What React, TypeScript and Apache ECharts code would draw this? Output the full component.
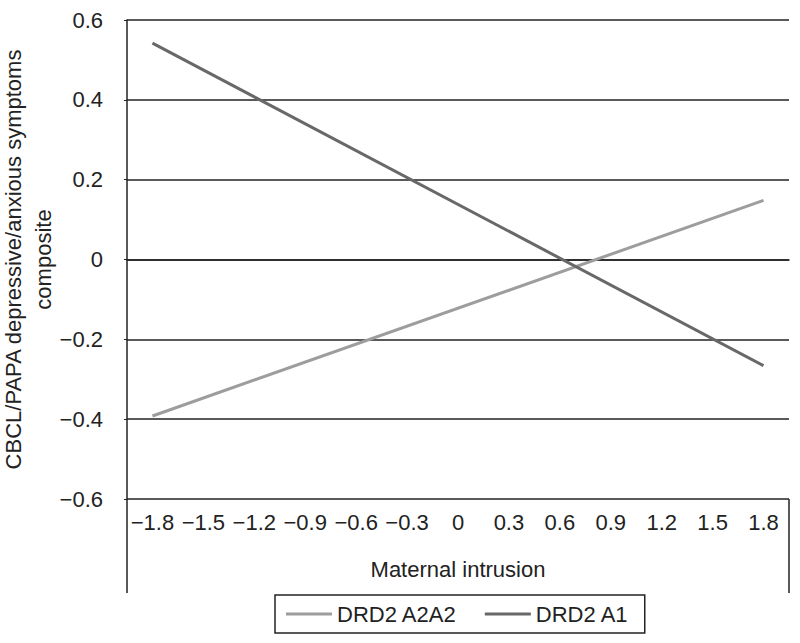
import React, { useEffect, useRef } from "react";
import * as echarts from "echarts";

const categories = ["-1.8", "-1.5", "-1.2", "-0.9", "-0.6", "-0.3", "0", "0.3", "0.6", "0.9", "1.2", "1.5", "1.8"];
const a2a2Values: (number | null)[] = [-0.392, null, null, null, null, null, null, null, null, null, null, null, 0.148];
const a1Values: (number | null)[] = [0.542, null, null, null, null, null, null, null, null, null, null, null, -0.266];
const yTicks = { min: -0.6, max: 0.6, interval: 0.2 };

const FONT = "Liberation Sans, Arial, Helvetica, sans-serif";
const TXT = "#222";
const FS = 22;

const minus = (s: string) => s.replace("-", "\u2212");

export default function App() {
  const ref = useRef<HTMLDivElement>(null);
  useEffect(() => {
    if (!ref.current) return;
    const chart = echarts.init(ref.current, undefined, { renderer: "svg" });
    chart.setOption({
      animation: false,
      backgroundColor: "#fff",
      textStyle: { fontFamily: FONT, color: TXT },
      grid: { left: 127, right: 11, top: 20, bottom: 144, containLabel: false, outerBoundsMode: "none" },
      xAxis: {
        type: "category",
        data: categories,
        boundaryGap: true,
        name: "Maternal intrusion",
        nameLocation: "middle",
        nameGap: 59,
        nameMoveOverlap: false,
        nameTextStyle: { fontSize: FS, color: TXT, fontFamily: FONT },
        axisLine: { lineStyle: { color: TXT, width: 1.5 } },
        axisTick: { show: false },
        axisLabel: {
          margin: 12,
          fontSize: FS,
          color: TXT,
          fontFamily: FONT,
          interval: 0,
          formatter: (v: string) => minus(v),
        },
      },
      yAxis: {
        type: "value",
        min: yTicks.min,
        max: yTicks.max,
        interval: yTicks.interval,
        name: "CBCL/PAPA depressive/anxious symptoms\ncomposite",
        nameLocation: "middle",
        nameRotate: 90,
        nameGap: 69,
        nameMoveOverlap: false,
        nameTextStyle: { fontSize: FS, color: TXT, fontFamily: FONT, lineHeight: 30, align: "center" },
        axisLine: { show: true, lineStyle: { color: TXT, width: 1.5 } },
        axisTick: { show: true, length: 3, lineStyle: { color: TXT } },
        splitLine: { show: true, lineStyle: { color: TXT, width: 1.5 } },
        axisLabel: {
          margin: 24,
          fontSize: FS,
          color: TXT,
          fontFamily: FONT,
          formatter: (v: number) => (Math.abs(v) < 1e-9 ? "0" : minus(v.toFixed(1))),
        },
      },
      legend: {
        left: 275,
        top: 595,
        orient: "horizontal",
        padding: [8, 16, 8, 11],
        itemGap: 28,
        itemWidth: 46,
        itemHeight: 3,
        icon: "rect",
        borderColor: TXT,
        borderWidth: 1.5,
        borderRadius: 0,
        textStyle: { fontSize: FS, color: TXT, fontFamily: FONT },
        data: ["DRD2 A2A2", "DRD2 A1"],
      },
      graphic: [
        { type: "line", shape: { x1: 127, y1: 499, x2: 127, y2: 593 }, style: { stroke: TXT, lineWidth: 1.5 } },
        { type: "line", shape: { x1: 789, y1: 499, x2: 789, y2: 593 }, style: { stroke: TXT, lineWidth: 1.5 } },
      ],
      series: [
        {
          name: "DRD2 A2A2",
          type: "line",
          data: a2a2Values,
          connectNulls: true,
          showSymbol: false,
          symbol: "none",
          color: "#9d9d9d",
          lineStyle: { color: "#9d9d9d", width: 3 },
        },
        {
          name: "DRD2 A1",
          type: "line",
          data: a1Values,
          connectNulls: true,
          showSymbol: false,
          symbol: "none",
          color: "#686868",
          lineStyle: { color: "#686868", width: 3 },
        },
      ],
    });
    return () => chart.dispose();
  }, []);
  return <div ref={ref} style={{ width: 800, height: 643, position: "absolute", left: 0, top: 0 }} />;
}
